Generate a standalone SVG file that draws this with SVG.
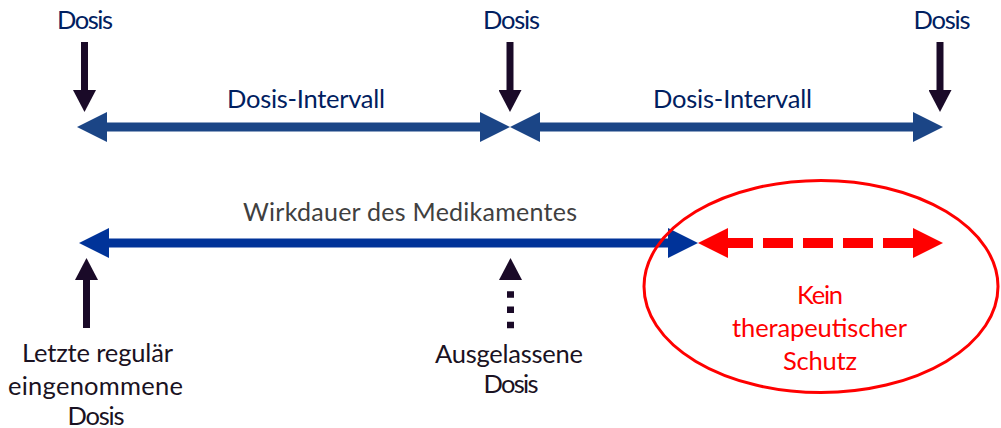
<svg xmlns="http://www.w3.org/2000/svg" width="1001" height="428" viewBox="0 0 1001 428">
<style>
text{font-family:Lato,"Open Sans","Liberation Sans",sans-serif;font-size:25.5px;text-anchor:middle}
.navy{fill:#002060}
.gray{fill:#404040;font-size:25px}
.dark{fill:#1a1222}
.red{fill:#ff0000}
.tb{stroke:#1b4586;stroke-width:9;fill:none}
.bb{stroke:#003399;stroke-width:9;fill:none}
.bk{stroke:#1a0a28;stroke-width:7;fill:none}
.rd{stroke:#ff0000;stroke-width:10;fill:none}
</style>
<defs>
<marker id="mTB" markerUnits="userSpaceOnUse" viewBox="0 0 30 30" markerWidth="30" markerHeight="30" refX="2" refY="15" orient="auto-start-reverse"><path d="M0,0L30,15L0,30z" fill="#1b4586"/></marker>
<marker id="mBB" markerUnits="userSpaceOnUse" viewBox="0 0 30 30" markerWidth="30" markerHeight="30" refX="2" refY="15" orient="auto-start-reverse"><path d="M0,0L30,15L0,30z" fill="#003399"/></marker>
<marker id="mRD" markerUnits="userSpaceOnUse" viewBox="0 0 30 30" markerWidth="30" markerHeight="30" refX="0" refY="15" orient="auto-start-reverse"><path d="M0,0L30,15L0,30z" fill="#ff0000"/></marker>
<marker id="mBK" markerUnits="userSpaceOnUse" viewBox="0 0 22 23" markerWidth="22" markerHeight="23" refX="1" refY="11.5" orient="auto"><path d="M0,0L22,11.5L0,23z" fill="#1a0a28"/></marker>
<marker id="mBKgap" markerUnits="userSpaceOnUse" viewBox="0 0 22 23" markerWidth="22" markerHeight="23" refX="-11" refY="11.5" orient="auto"><path d="M0,0L22,11.5L0,23z" fill="#1a0a28"/></marker>
</defs>

<g id="connectors">
<line class="tb" x1="105" y1="127" x2="482" y2="127" marker-start="url(#mTB)" marker-end="url(#mTB)"/>
<line class="tb" x1="538" y1="127" x2="915" y2="127" marker-start="url(#mTB)" marker-end="url(#mTB)"/>
<line class="bk" x1="84.5" y1="42" x2="84.5" y2="91" marker-end="url(#mBK)"/>
<line class="bk" x1="510" y1="42" x2="510" y2="91" marker-end="url(#mBK)"/>
<line class="bk" x1="940" y1="42" x2="940" y2="91" marker-end="url(#mBK)"/>
<line class="bb" x1="107" y1="243" x2="670" y2="243" marker-start="url(#mBB)" marker-end="url(#mBB)"/>
<line class="rd" x1="728" y1="243" x2="913" y2="243" stroke-dasharray="30 10" stroke-dashoffset="5" marker-start="url(#mRD)" marker-end="url(#mRD)"/>
<line class="bk" x1="86.5" y1="328" x2="86.5" y2="279" marker-end="url(#mBK)"/>
<line class="bk" x1="510.5" y1="328.3" x2="510.5" y2="291" stroke-width="8" stroke-dasharray="6.5 8.8" marker-end="url(#mBKgap)"/>
</g>

<g id="dose1"><text class="navy" x="85" y="29" textLength="56">Dosis</text></g>
<g id="dose2"><text class="navy" x="511.5" y="29" textLength="57">Dosis</text></g>
<g id="dose3"><text class="navy" x="942" y="29" textLength="57">Dosis</text></g>
<g id="interval1"><text class="navy" x="306" y="108" textLength="158">Dosis-Intervall</text></g>
<g id="interval2"><text class="navy" x="732.5" y="108" textLength="159">Dosis-Intervall</text></g>
<g id="duration"><text class="gray" x="410" y="221" textLength="334">Wirkdauer des Medikamentes</text></g>
<g id="last-dose">
<text class="dark" x="97.5" y="362" textLength="151">Letzte regulär</text>
<text class="dark" x="95.5" y="395" textLength="175">eingenommene</text>
<text class="dark" x="96" y="425" textLength="57">Dosis</text>
</g>
<g id="missed-dose">
<text class="dark" x="509" y="363" textLength="148">Ausgelassene</text>
<text class="dark" x="511" y="393" textLength="55">Dosis</text>
</g>
<g id="no-protection">
<ellipse cx="821" cy="286.5" rx="177" ry="106" fill="none" stroke="#ff0000" stroke-width="3"/>
<text class="red" x="820" y="304" textLength="46">Kein</text>
<text class="red" x="819.5" y="337" textLength="175">therapeutischer</text>
<text class="red" x="820" y="370" textLength="74">Schutz</text>
</g>
</svg>
